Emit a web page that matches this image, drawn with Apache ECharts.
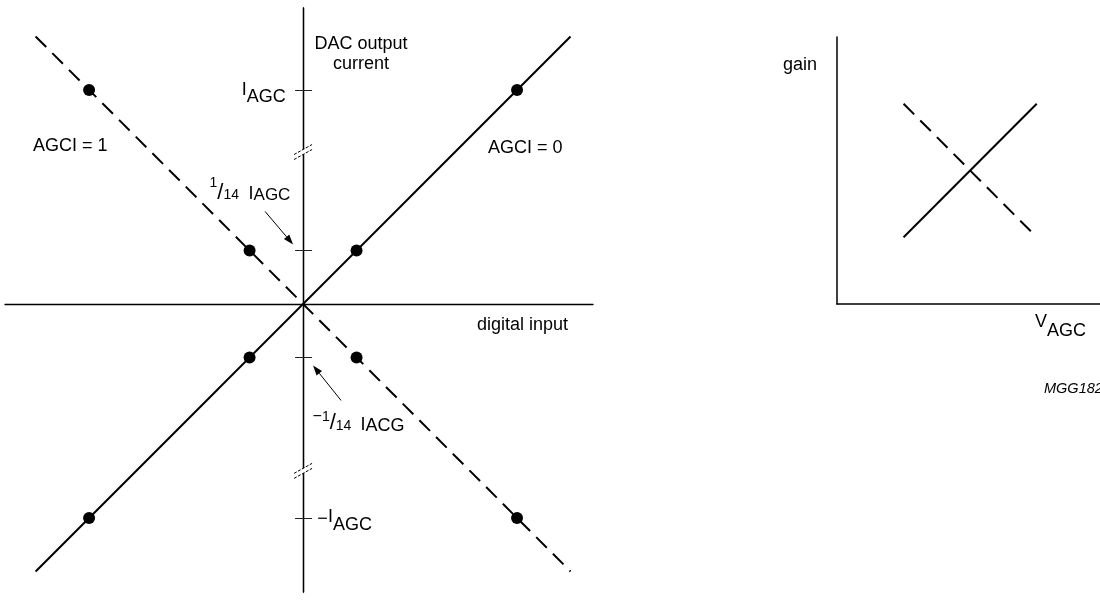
<!DOCTYPE html>
<html><head><meta charset="utf-8">
<script src="https://cdn.jsdelivr.net/npm/echarts@6/dist/echarts.min.js"></script>
<style>html,body{margin:0;padding:0;background:#fff}#c{width:1100px;height:600px}</style>
</head><body><div id="c"></div>
<script>
// ---------------- data ----------------
// left diagram: DAC output current vs digital input (arbitrary units, I_AGC = 1)
const dacTickValues = [-1, -0.25, 0.25, 1];          // I_AGC, 1/14 I_AGC, -1/14, -I_AGC (broken axis)
const lineEndX = [-1.25, 1.25];
const agci0LineY = [-1.25, 1.25];                    // AGCI = 0 (solid)
const agci1LineY = [1.25, -1.25];                    // AGCI = 1 (dashed)
const pointX = [-1, -0.25, 0.25, 1];
const agci0PointY = [-1, -0.25, 0.25, 1];
const agci1PointY = [1, 0.25, -0.25, -1];
const axisBreakValues = [0.71, -0.78];
// right diagram: gain vs V_AGC
const vagcX = [1, 3];
const gainSolid = [1, 3];
const gainDashed = [3, 1];

const FONT = '"Liberation Sans", Arial, Helvetica, sans-serif';
const zip = (a, b) => a.map((v, i) => [v, b[i]]);

const chart = echarts.init(document.getElementById('c'), null, {renderer: 'canvas'});
const axLine = {color: '#000', width: 1.3};
const leftRect = {left: 5, right: 507, top: 8, bottom: 8};
const xRange = {min: -1.393, max: 1.355};
const yRange = {min: -1.346, max: 1.383};
const hidden = {axisLine: {show: false}, axisTick: {show: false}, axisLabel: {show: false}, splitLine: {show: false}};
chart.setOption({
  animation: false,
  backgroundColor: '#fff',
  grid: [
    leftRect,
    {left: 837, right: 0, top: 37, bottom: 296},
    leftRect
  ],
  xAxis: [
    Object.assign({type: 'value', gridIndex: 0}, xRange, {
     axisLine: {show: true, onZero: true, lineStyle: axLine},
     axisTick: {show: false}, axisLabel: {show: false}, splitLine: {show: false}}),
    {type: 'value', gridIndex: 1, min: 0, max: 3.95,
     axisLine: {show: true, onZero: false, lineStyle: {color: '#000', width: 1.5}},
     axisTick: {show: false}, axisLabel: {show: false}, splitLine: {show: false}},
    Object.assign({type: 'value', gridIndex: 2}, xRange, hidden)
  ],
  yAxis: [
    Object.assign({type: 'value', gridIndex: 0, position: 'left'}, yRange, {
     axisLine: {show: true, onZero: true, lineStyle: axLine},
     axisTick: {show: true, customValues: dacTickValues, length: 8, lineStyle: {color: '#222', width: 1}},
     axisLabel: {show: false}, splitLine: {show: false}}),
    {type: 'value', gridIndex: 1, min: 0, max: 4.0,
     axisLine: {show: true, onZero: false, lineStyle: {color: '#000', width: 1.5}},
     axisTick: {show: false}, axisLabel: {show: false}, splitLine: {show: false}},
    Object.assign({type: 'value', gridIndex: 2, position: 'right'}, yRange, {
     axisLine: {show: true, onZero: true, lineStyle: axLine},
     axisTick: {show: true, customValues: dacTickValues, length: 9, lineStyle: {color: '#222', width: 1}},
     axisLabel: {show: false}, splitLine: {show: false}})
  ],
  series: [
    {name: 'AGCI = 0', type: 'line', xAxisIndex: 0, yAxisIndex: 0, data: zip(lineEndX, agci0LineY),
     showSymbol: false, lineStyle: {color: '#000', width: 2}, z: 3},
    {name: 'AGCI = 1', type: 'line', xAxisIndex: 0, yAxisIndex: 0, data: zip(lineEndX, agci1LineY),
     showSymbol: false, lineStyle: {color: '#000', width: 2, type: [15, 8.6], cap: 'butt'}, z: 3},
    {name: 'AGCI = 0 points', type: 'scatter', xAxisIndex: 0, yAxisIndex: 0, data: zip(pointX, agci0PointY),
     symbolSize: 12, itemStyle: {color: '#000', opacity: 1}, z: 4},
    {name: 'AGCI = 1 points', type: 'scatter', xAxisIndex: 0, yAxisIndex: 0, data: zip(pointX, agci1PointY),
     symbolSize: 12, itemStyle: {color: '#000', opacity: 1}, z: 4},
    {name: 'gain solid', type: 'line', xAxisIndex: 1, yAxisIndex: 1, data: zip(vagcX, gainSolid),
     showSymbol: false, lineStyle: {color: '#000', width: 2}},
    {name: 'gain dashed', type: 'line', xAxisIndex: 1, yAxisIndex: 1, data: zip(vagcX, gainDashed),
     showSymbol: false, lineStyle: {color: '#000', width: 2, type: [15, 8.6], cap: 'butt'}}
  ]
});

// ---------------- annotations ----------------
const mctx = document.createElement('canvas').getContext('2d');
function tw(t, s, it) { mctx.font = (it ? 'italic ' : '') + s + 'px ' + FONT; return mctx.measureText(t).width; }
const G = [];
function txt(x, y, t, s, opt) {
  opt = opt || {};
  const al = opt.align || 'left';
  G.push({type: 'text', x: x, y: y, silent: true, z: 10,
    style: {text: t, font: (opt.it ? 'italic ' : '') + s + 'px ' + FONT, fill: '#000',
      align: al, verticalAlign: 'middle', textAlign: al, textVerticalAlign: 'middle'}});
}
// parts placed on a common baseline; dy shifts a part's baseline (sub/superscripts)
function label(x, base, parts) {
  let cx = x;
  parts.forEach(p => {
    if (p.gap) { cx += p.gap; return; }
    txt(cx, base + (p.dy || 0) - 0.3465 * p.s, p.t, p.s, {it: p.it});
    cx += tw(p.t, p.s, p.it);
  });
}
function arrow(x1, y1, x2, y2) {
  const a = Math.atan2(y2 - y1, x2 - x1), L = 10, W = 3.5;
  const bx = x2 - L * Math.cos(a), by = y2 - L * Math.sin(a);
  G.push({type: 'line', silent: true, z: 10, shape: {x1: x1, y1: y1, x2: bx, y2: by},
    style: {stroke: '#000', lineWidth: 1}});
  G.push({type: 'polygon', silent: true, z: 10, shape: {points: [[x2, y2],
    [bx + W * Math.sin(a), by - W * Math.cos(a)], [bx - W * Math.sin(a), by + W * Math.cos(a)]]},
    style: {fill: '#000'}});
}

const px = v => chart.convertToPixel({xAxisIndex: 0}, v);
const py = v => chart.convertToPixel({yAxisIndex: 0}, v);
const ox = px(0);

// axis break marks
axisBreakValues.forEach(v => {
  const cy = py(v);
  G.push({type: 'polygon', silent: true, z: 9, shape: {points: [[ox - 9, cy + 2.5], [ox + 9, cy - 7.5], [ox + 9, cy - 2.5], [ox - 9, cy + 7.5]]},
    style: {fill: '#fff'}});
  [-2.5, 2.5].forEach(d => {
    G.push({type: 'line', silent: true, z: 10, shape: {x1: ox - 9, y1: cy + 5 + d, x2: ox + 9, y2: cy - 5 + d},
      style: {stroke: '#000', lineWidth: 1, lineDash: [3, 1.5]}});
  });
});

// tick labels
label(ox - 61.2, py(1) + 6, [{t: 'I', s: 18}, {t: 'AGC', s: 18, dy: 7.5}]);
label(ox + 14.3, py(-1) + 5, [{t: '\u2212', s: 18, dy: 2}, {t: 'I', s: 18}, {t: 'AGC', s: 18, dy: 8}]);
label(ox - 93.5, py(0.25) - 50, [{t: '1', s: 14, dy: -12}, {t: '/', s: 22}, {t: '14', s: 14}, {gap: 9.5}, {t: 'I', s: 18}, {t: 'AGC', s: 17, dy: 1}]);
arrow(ox - 38, py(0.25) - 39, ox - 10, py(0.25) - 6);
label(ox + 9.5, py(-0.25) + 73.5, [{t: '\u2212', s: 16, dy: -9}, {t: '1', s: 14, dy: -9}, {t: '/', s: 22}, {t: '14', s: 14}, {gap: 9}, {t: 'I', s: 18}, {t: 'ACG', s: 18, dy: 1}]);
arrow(ox + 38, py(-0.25) + 43, ox + 10, py(-0.25) + 8);

// free labels
label(33, 152, [{t: 'AGCI = 1', s: 18}]);
label(488, 154, [{t: 'AGCI = 0', s: 18}]);
label(477, 331, [{t: 'digital input', s: 18}]);
txt(361, 50 - 0.3465 * 18, 'DAC output', 18, {align: 'center'});
txt(361, 70 - 0.3465 * 18, 'current', 18, {align: 'center'});
label(783, 71, [{t: 'gain', s: 18}]);
label(1035, 328, [{t: 'V', s: 18}, {t: 'AGC', s: 18, dy: 9}]);
label(1044, 394, [{t: 'MGG182', s: 14.5, it: true}]);

chart.setOption({graphic: G});
</script></body></html>
